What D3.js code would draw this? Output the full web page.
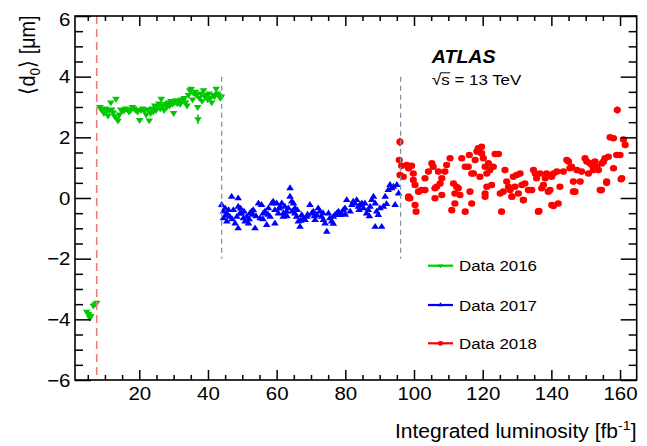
<!DOCTYPE html>
<html><head><meta charset="utf-8">
<script src="https://cdn.jsdelivr.net/npm/d3@7"></script>
<style>body{margin:0;background:#fff}svg{display:block}text{font-family:"Liberation Sans",Arial,Helvetica,sans-serif}</style>
</head><body><svg id="c" width="647" height="446"></svg>
<script>
// ---------------- data (integrated luminosity [fb^-1], <d0> [um]) ----------------
const early2016 = [[4.7,-3.75],[5.2,-3.82],[5.6,-3.95],[5.9,-3.88],[6.6,-3.55],[7.1,-3.5],[7.6,-3.45]];
const data2016 = [
[8.5,3.00],[8.9,2.93],[9.3,2.88],[9.7,2.80],[10.1,2.95],[10.5,2.85],[10.9,2.72],[11.3,2.90],[11.7,3.15],[12.0,2.92],
[12.4,2.82],[12.8,2.70],[13.2,3.27],[13.5,2.62],[13.8,2.55],[14.2,2.75],[14.6,2.92],[15.0,2.90],[15.5,2.88],[16.0,2.95],
[16.5,2.92],[17.0,2.85],[17.5,2.90],[18.0,3.00],[18.5,2.95],[19.0,2.90],[19.5,2.85],[20.1,2.57],[20.5,2.90],[21.0,2.95],
[21.5,2.88],[22.0,2.75],[22.5,2.92],[22.9,2.56],[23.3,2.80],[23.7,2.95],[24.1,2.85],[24.5,3.05],[24.9,2.90],[25.3,3.00],
[25.7,3.12],[26.1,2.95],[26.4,3.27],[26.8,3.05],[27.2,2.90],[27.6,3.10],[28.0,3.00],[28.4,3.15],[28.8,3.05],[29.2,3.20],
[29.6,3.10],[30.0,2.80],[30.3,3.15],[30.7,3.22],[31.1,3.12],[31.5,3.18],[31.9,3.10],[32.3,3.25],[32.7,3.20],[33.1,3.30],
[33.5,3.15],[33.9,3.05],[34.3,3.40],[34.7,3.55],[35.1,3.60],[35.5,3.25],[35.9,3.45],[36.3,3.50],[36.7,3.40],[37.0,3.00],
[37.1,2.60],[37.5,3.30],[37.9,3.45],[38.3,3.20],[38.7,3.55],[39.1,3.35],[39.5,3.40],[39.9,3.25],[40.3,3.45],[40.7,3.30],
[41.1,3.15],[41.5,3.40],[41.9,3.35],[42.4,3.60],[42.8,3.45],[43.2,3.38],[43.6,3.30],[43.9,3.35]];
const data2017 = [
[44.0,-0.23],[44.5,-0.45],[45.0,-0.34],[45.5,-0.51],[44.5,-0.67],[45.5,-0.78],[46.4,-0.62],[46.9,0.04],[47.4,-0.40],[47.9,-0.84],
[48.8,-0.01],[48.8,-0.29],[49.3,-0.51],[48.4,-0.62],[48.8,-1.00],[49.8,-0.51],[50.3,-0.67],[50.8,-0.78],[51.3,-0.62],[51.8,-0.84],
[52.2,-0.51],[52.7,-0.45],[53.2,-0.40],[53.7,-1.00],[54.7,-0.18],[55.2,-0.67],[55.6,-0.23],[56.1,-0.51],[56.6,-0.45],[57.1,-0.89],
[57.6,-0.34],[58.1,-0.62],[58.6,-0.18],[59.0,-0.12],[59.5,-0.84],[60.0,-0.18],[60.5,-0.51],[61.0,-0.29],[61.5,-0.18],[61.9,-0.62],
[62.4,-0.29],[62.9,-0.45],[63.4,-0.34],[63.9,0.32],[63.9,0.04],[64.4,-0.12],[64.9,-0.18],[65.3,-0.34],[65.3,-0.51],[65.8,-0.62],
[66.3,-0.78],[66.8,-0.95],[67.3,-0.56],[67.8,-0.67],[68.3,-0.73],[68.8,-0.62],[69.7,-0.23],[70.2,-0.51],[70.7,-0.45],[71.2,-0.73],
[71.7,-0.56],[72.1,-0.34],[72.6,-0.45],[73.1,-0.62],[73.6,-0.73],[74.1,-0.84],[74.6,-1.11],[75.1,-0.51],[75.5,-0.67],[76.0,-0.78],
[76.5,-0.62],[77.0,-0.56],[77.5,-0.51],[78.0,-0.45],[78.5,-0.56],[78.9,-0.51],[79.4,-0.40],[79.9,-0.34],[80.4,-0.07],[81.4,-0.45],
[81.9,-0.23],[82.3,-0.12],[82.8,-0.18],[83.3,-0.07],[83.8,-0.29],[84.3,-0.23],[84.8,-0.18],[85.3,-0.34],[85.7,-0.18],[86.2,-0.51],
[86.7,-0.40],[87.2,-0.29],[87.7,-0.07],[88.2,0.04],[88.7,-0.18],[89.1,-0.45],[88.7,-0.95],[89.6,-0.56],[90.1,-0.34],[90.6,-0.95],
[91.1,-0.29],[91.6,0.04],[92.5,0.26],[93.0,0.43],[93.5,0.32],[94.0,0.37],[94.5,-0.23],[95.0,0.43],[95.5,0.15],
[45.2,-0.58],[46.0,-0.40],[47.0,-0.70],[49.5,-0.35],[50.5,-0.45],[52.0,-0.70],[53.0,-0.55],[54.0,-0.60],[56.0,-0.70],[57.5,-0.55],
[59.5,-0.40],[60.8,-0.35],[62.0,-0.50],[63.0,-0.60],[64.5,-0.45],[66.0,-0.40],[67.0,-0.75],[69.0,-0.55],[71.0,-0.60],[73.5,-0.50],
[76.5,-0.85],[80.0,-0.55],[84.0,-0.40],[87.0,-0.60],[92.0,-0.20]];
const data2018 = [
[95.9,1.85],[95.7,1.25],[96.4,1.06],[95.9,0.76],[96.9,0.70],[97.9,1.09],[98.4,0.98],[99.3,1.06],[98.4,0.05],[98.8,-0.01],
[99.8,0.81],[99.8,0.59],[100.3,0.43],[100.3,-0.23],[100.6,-0.45],[101.3,0.21],[102.2,0.26],[103.2,0.26],[103.2,0.65],[104.2,0.87],
[105.2,1.14],[105.6,1.03],[106.1,0.32],[106.1,-0.01],[106.6,0.37],[107.1,0.87],[107.6,0.48],[108.1,0.65],[108.1,0.10],[109.0,0.87],
[109.5,1.09],[110.5,1.31],[111.0,-0.40],[111.5,0.48],[111.9,0.15],[111.9,-0.18],[112.4,0.37],[112.9,0.32],[113.4,0.10],[113.9,1.31],
[114.9,-0.45],[114.9,1.03],[115.8,1.03],[116.1,1.42],[116.3,0.21],[116.8,0.81],[117.3,0.81],[117.8,1.25],[118.3,1.53],[118.7,1.64],
[119.2,0.70],[119.7,1.69],[119.7,1.47],[120.2,1.31],[120.7,0.15],[120.7,1.03],[121.2,0.81],[121.2,0.37],[121.7,1.14],[122.1,0.92],
[122.6,0.43],[123.1,1.03],[123.6,1.45],[124.6,1.45],[125.1,0.15],[125.5,-0.45],[126.0,0.21],[126.5,0.92],[127.0,0.54],[127.5,0.37],
[128.0,0.26],[128.5,0.05],[128.9,0.70],[129.4,0.37],[129.9,0.76],[130.4,0.15],[130.9,0.81],[131.4,0.43],[131.9,-0.07],[132.3,0.48],
[133.3,0.26],[134.3,0.26],[134.8,0.92],[135.3,0.81],[135.7,0.65],[136.2,-0.45],[136.7,0.81],[137.2,0.32],[137.7,0.43],[138.2,0.65],
[138.6,0.81],[139.1,0.21],[139.6,0.26],[140.1,0.70],[140.1,-0.23],[140.6,0.81],[141.6,0.87],[142.0,-0.18],[142.5,0.37],[143.5,0.87],
[144.5,1.25],[145.0,1.20],[145.4,0.98],[145.9,1.03],[146.4,0.21],[146.4,0.54],[147.4,0.92],[148.4,0.54],[148.8,0.87],[149.8,1.31],
[150.3,1.20],[150.8,0.81],[151.3,1.14],[151.8,1.09],[152.2,0.92],[152.7,1.20],[153.2,1.03],[153.7,0.92],[154.2,0.26],[154.7,1.14],
[155.2,1.20],[155.6,1.31],[156.1,0.54],[156.6,1.36],[157.1,2.00],[158.1,1.97],[158.1,0.98],[159.0,1.42],[159.2,2.90],[160.0,1.42],
[160.5,0.65],[161.0,1.93],[161.5,1.75],[136.4,-0.43],[140.6,-0.26],[131.8,-0.07],[154.6,0.26],[146.9,0.21],[156.1,0.50],[160.3,0.62],
[98.4,0.00],[116.8,-0.18],[120.7,0.04],[128.5,0.04]];
const errors2016 = [[37.1,2.60,0.15]];
const errors2018 = [[95.9,1.85,0.14],[159.2,2.90,0.12]];
const xMajorTicks = [20,40,60,80,100,120,140,160];
const yMajorTicks = [-6,-4,-2,0,2,4,6];
const xMinorTicks = [5,10,15,25,30,35,45,50,55,65,70,75,85,90,95,105,110,115,125,130,135,145,150,155];
const yMinorTicks = [-5.5,-5,-4.5,-3.5,-3,-2.5,-1.5,-1,-0.5,0.5,1,1.5,2.5,3,3.5,4.5,5,5.5];
const startLine2016 = 7.6;            // red dashed line
const yearBoundaries = [44.0, 96.1];  // grey dashed lines
const yearBoundaryRange = [-2, 4];
const legendLabels = ["Data 2016","Data 2017","Data 2018"];
const xTitle = "Integrated luminosity [fb";
const energyLabel = "s = 13 TeV";

// ---------------- drawing ----------------
const svg = d3.select("#c");
const FONT = '"Liberation Sans",Arial,Helvetica,sans-serif';
const SX = 1.09; // horizontal stretch of the original picture
const C16 = "#00c800", C17 = "#0000ff", C18 = "#ff0000";
const L = 75, R = 636.7, T = 16, B = 380;
const x = d3.scaleLinear().domain([1.28,164.85]).range([L,R]);
const y = d3.scaleLinear().domain([-6,6]).range([B,T]);

function stretch(sel, f){
  sel.each(function(){
    const len = this.getComputedTextLength();
    this.setAttribute("textLength", len*f);
    this.setAttribute("lengthAdjust","spacingAndGlyphs");
  });
}

// markers
const triUp = d3.symbol(d3.symbolTriangle, 20)();
const plot = svg.append("g");
function tri(data, color, down){
  plot.append("g").selectAll("path").data(data).join("path")
    .attr("d", triUp)
    .attr("fill", color)
    .attr("transform", d => `translate(${x(d[0])},${y(d[1])}) scale(1.12,${down?-1:1})`);
}
function errs(data, color){
  plot.append("g").selectAll("line").data(data).join("line")
    .attr("x1", d=>x(d[0])).attr("x2", d=>x(d[0]))
    .attr("y1", d=>y(d[1]-d[2])).attr("y2", d=>y(d[1]+d[2]))
    .attr("stroke", color).attr("stroke-width", 1.6);
}
errs(errors2016, C16);
tri(early2016, C16, true);
tri(data2016, C16, true);
tri(data2017, C17, false);
errs(errors2018, C18);
plot.append("g").selectAll("ellipse").data(data2018).join("ellipse")
  .attr("cx", d=>x(d[0])).attr("cy", d=>y(d[1]))
  .attr("rx", 3.6).attr("ry", 3.3).attr("fill", C18);

// dashed lines
svg.append("line").attr("x1", x(startLine2016)).attr("x2", x(startLine2016))
  .attr("y1", T).attr("y2", B).attr("stroke", "#f07a7a").attr("stroke-width", 1.6)
  .attr("stroke-dasharray", "8,5");
svg.append("g").selectAll("line").data(yearBoundaries).join("line")
  .attr("x1", d=>x(d)).attr("x2", d=>x(d))
  .attr("y1", y(yearBoundaryRange[1])).attr("y2", y(yearBoundaryRange[0]))
  .attr("stroke", "#8294a4").attr("stroke-width", 1.3).attr("stroke-dasharray", "5,4");

// axes
function styleAxis(g){ g.select(".domain").remove(); g.selectAll("line").attr("stroke","#000").attr("stroke-width",1.5); g.attr("font-family",FONT); }
const gB = svg.append("g").attr("transform",`translate(0,${B})`)
  .call(d3.axisBottom(x).tickValues(xMajorTicks).tickSize(-10).tickPadding(7).tickFormat(d3.format("d")));
styleAxis(gB); gB.attr("font-size",18.8); gB.selectAll("text").attr("fill","#000");
svg.append("g").attr("transform",`translate(0,${B})`)
  .call(d3.axisBottom(x).tickValues(xMinorTicks).tickSize(-5).tickFormat("")).call(styleAxis);
svg.append("g").attr("transform",`translate(0,${T})`)
  .call(d3.axisTop(x).tickValues(xMajorTicks).tickSize(-10).tickFormat("")).call(styleAxis);
svg.append("g").attr("transform",`translate(0,${T})`)
  .call(d3.axisTop(x).tickValues(xMinorTicks).tickSize(-5).tickFormat("")).call(styleAxis);

const gL = svg.append("g").attr("transform",`translate(${L},0)`)
  .call(d3.axisLeft(y).tickValues(yMajorTicks).tickSize(-16).tickPadding(4.5).tickFormat(d3.format("d")));
styleAxis(gL); gL.attr("font-size",18.8); gL.selectAll("text").attr("fill","#000");
gL.selectAll(".tick").filter(d=>d===6).select("text").attr("dy","0.52em");
svg.append("g").attr("transform",`translate(${L},0)`)
  .call(d3.axisLeft(y).tickValues(yMinorTicks).tickSize(-8).tickFormat("")).call(styleAxis);
svg.append("g").attr("transform",`translate(${R},0)`)
  .call(d3.axisRight(y).tickValues(yMajorTicks).tickSize(-16).tickFormat("")).call(styleAxis);
svg.append("g").attr("transform",`translate(${R},0)`)
  .call(d3.axisRight(y).tickValues(yMinorTicks).tickSize(-8).tickFormat("")).call(styleAxis);

// frame
svg.append("rect").attr("x",L).attr("y",T).attr("width",R-L).attr("height",B-T)
  .attr("fill","none").attr("stroke","#000").attr("stroke-width",1.6);

stretch(gB.selectAll("text"), SX);
stretch(gL.selectAll("text"), SX);

// axis titles
const xt = svg.append("text").attr("x",636.5).attr("y",438.3).attr("text-anchor","end")
  .attr("font-size",19.3).attr("font-family",FONT);
xt.append("tspan").text(xTitle);
xt.append("tspan").attr("font-size",13).attr("dy",-8).text("-1");
xt.append("tspan").attr("dy",8).text("]");
stretch(xt, SX);

const yt = svg.append("text").attr("transform","translate(35,15.5) rotate(-90)")
  .attr("text-anchor","end").attr("font-size",21.5).attr("font-family",FONT);
yt.append("tspan").text("\u27E8d");
yt.append("tspan").attr("font-size",14.5).attr("dy",5).text("0");
yt.append("tspan").attr("dy",-5).text("\u27E9 [\u03BCm]");
stretch(yt, 0.918);

// ATLAS label
const at = svg.append("text").attr("x",431.7).attr("y",62.7).attr("font-size",18)
  .attr("font-weight","bold").attr("font-style","italic").attr("font-family",FONT).text("ATLAS");
stretch(at, SX);
const en = svg.append("text").attr("x",432).attr("y",85).attr("font-size",15.5).attr("font-family",FONT);
en.append("tspan").text("\u221A");
en.append("tspan").text(energyLabel);
stretch(en, SX);
{
  const n = en.node();
  const s1 = n.getEndPositionOfChar(1).x;
  const r0 = n.getEndPositionOfChar(0).x;
  svg.append("line").attr("x1", r0-0.8).attr("x2", s1+0.5).attr("y1", 85-12.2).attr("y2", 85-12.2)
    .attr("stroke","#000").attr("stroke-width",1);
}

// legend
const legRowsY = [265.7, 305, 343.3];
const legColors = [C16, C17, C18];
const leg = svg.append("g");
legendLabels.forEach((lab,i)=>{
  const yy = legRowsY[i];
  leg.append("line").attr("x1",428).attr("x2",453).attr("y1",yy).attr("y2",yy)
    .attr("stroke",legColors[i]).attr("stroke-width",2.2);
  if(i===2){
    leg.append("ellipse").attr("cx",440.5).attr("cy",yy).attr("rx",2.6).attr("ry",2.4).attr("fill",C18);
  } else {
    leg.append("path").attr("d", d3.symbol(d3.symbolTriangle, 9)())
      .attr("transform",`translate(440.5,${yy}) scale(1.1,${i===0?-1:1})`).attr("fill",legColors[i]);
  }
  const t = leg.append("text").attr("x",459).attr("y",yy+5.6).attr("font-size",15.5)
    .attr("font-family",FONT).text(lab);
  stretch(t, SX);
});
</script></body></html>
